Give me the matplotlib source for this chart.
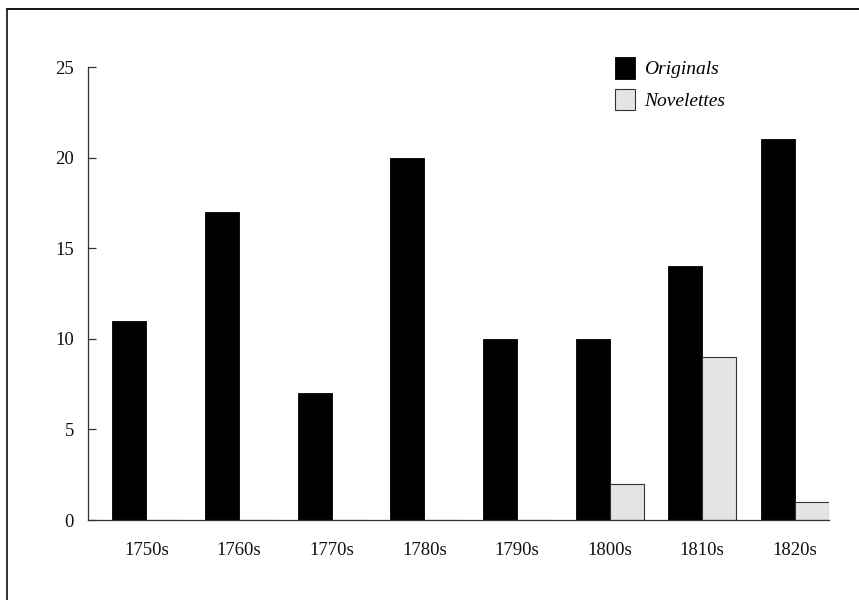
import numpy as np
import matplotlib.pyplot as plt
from matplotlib.lines import Line2D

decadas = ['1750s', '1760s', '1770s', '1780s', '1790s', '1800s', '1810s', '1820s']
originais = [11, 17, 7, 20, 10, 10, 14, 21]
novelettes = [0, 0, 0, 0, 0, 2, 9, 1]

plt.rcParams['font.family'] = ['Liberation Serif', 'DejaVu Serif']

fig = plt.figure(figsize=(8.59, 6), dpi=100)
ax = fig.add_axes([0.1024, 0.1333, 0.8626, 0.755])

x = np.arange(len(decadas))
w = 0.367
ax.bar(x - w / 2, originais, w, color='black', edgecolor='black', linewidth=0.6, label='Originals')
ax.bar(x + w / 2, novelettes, w, color='#e4e4e4', edgecolor='#333333', linewidth=0.8, label='Novelettes')

ax.set_xlim(-0.63, len(decadas) - 1 + w)
ax.set_ylim(0, 25)
ax.set_yticks([0, 5, 10, 15, 20, 25])
ax.set_xticks(x)
ax.set_xticklabels(decadas)

for s in ['top', 'right']:
    ax.spines[s].set_visible(False)
for s in ['left', 'bottom']:
    ax.spines[s].set_color('#333333')
    ax.spines[s].set_linewidth(0.9)

ax.tick_params(axis='y', direction='in', length=6, width=0.9, color='#333333', pad=10,
               labelsize=13.5, labelcolor='#111111')
ax.tick_params(axis='x', length=0, pad=16, labelsize=13.5, labelcolor='#111111')

ax.legend(loc='upper left', bbox_to_anchor=(0.688, 1.06), frameon=False,
          prop={'style': 'italic', 'size': 14}, handlelength=1.0, handleheight=1.3,
          handletextpad=0.5, labelspacing=0.55)

# moldura da figura (so topo e esquerda aparecem)
fig.add_artist(Line2D([0.00815, 1.0], [0.985, 0.985], color='black', linewidth=1.3))
fig.add_artist(Line2D([0.00815, 0.00815], [0.0, 0.985], color='#222222', linewidth=1.3))

plt.savefig('out.png', dpi=100)
